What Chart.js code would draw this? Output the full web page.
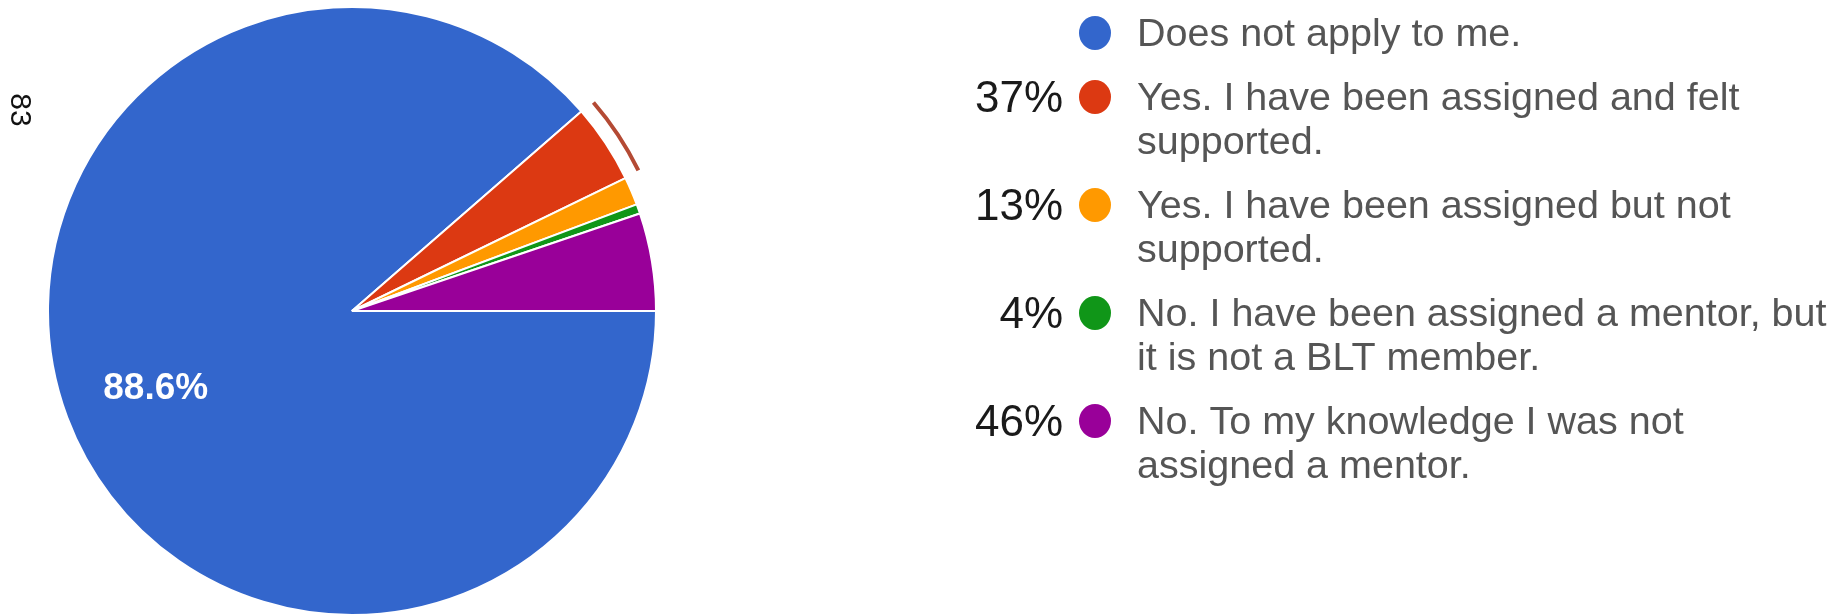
<!DOCTYPE html>
<html>
<head>
<meta charset="utf-8">
<script src="https://cdn.jsdelivr.net/npm/chart.js@4.4.0/dist/chart.umd.min.js"></script>
<style>
  html, body { margin: 0; padding: 0; background: #fff; overflow: hidden; }
  canvas { display: block; }
</style>
</head>
<body>
<canvas id="c" width="1842" height="614"></canvas>
<script>
// Survey answers and their share of responses (percent)
const categories = [
  'Does not apply to me.',
  'Yes. I have been assigned and felt supported.',
  'Yes. I have been assigned but not supported.',
  'No. I have been assigned a mentor, but it is not a BLT member.',
  'No. To my knowledge I was not assigned a mentor.'
];
const shares = [88.6, 4.2, 1.5, 0.5, 5.2];
// Annotations written beside the legend entries
const sideLabels = ['', '37%', '13%', '4%', '46%'];
const sliceColors = ['#3366cc', '#dc3912', '#ff9900', '#109618', '#990099'];
const pageNumber = '83';
const highlightedSlice = 1;

const FONT = '"Liberation Sans", Arial, sans-serif';

// White percentage text inside the large slices
const sliceLabels = {
  id: 'sliceLabels',
  afterDatasetsDraw(chart) {
    const ctx = chart.ctx;
    const meta = chart.getDatasetMeta(0);
    const data = chart.data.datasets[0].data;
    meta.data.forEach((arc, i) => {
      if (data[i] < 10) return;
      const { x, y, startAngle, endAngle, outerRadius } = arc.getProps(['x', 'y', 'startAngle', 'endAngle', 'outerRadius'], true);
      const mid = (startAngle + endAngle) / 2;
      const r = outerRadius * 0.7;
      ctx.save();
      ctx.fillStyle = '#ffffff';
      ctx.font = 'bold 37px ' + FONT;
      ctx.textAlign = 'center';
      ctx.textBaseline = 'middle';
      ctx.fillText(data[i].toFixed(1) + '%', x + r * Math.cos(mid) + 3, y + r * Math.sin(mid) + 3);
      ctx.restore();
    });
  }
};

// Thin outline arc around the selected slice
const selectionRing = {
  id: 'selectionRing',
  afterDatasetsDraw(chart) {
    const arc = chart.getDatasetMeta(0).data[highlightedSlice];
    if (!arc) return;
    const { x, y, startAngle, endAngle, outerRadius } = arc.getProps(['x', 'y', 'startAngle', 'endAngle', 'outerRadius'], true);
    const ctx = chart.ctx;
    ctx.save();
    ctx.strokeStyle = '#b44a34';
    ctx.lineWidth = 4;
    ctx.beginPath();
    ctx.arc(x, y, outerRadius + 15, startAngle + 0.004, endAngle - 0.004);
    ctx.stroke();
    ctx.restore();
  }
};

// Legend on the right: side percentage, colour dot, wrapped answer text
const sideLegend = {
  id: 'sideLegend',
  afterDraw(chart) {
    const ctx = chart.ctx;
    const dotX = 1095, dotR = 16, textX = 1137, pctRight = 1063;
    const wrapWidth = 705, lineH = 44, itemGap = 64;
    let y = 33;
    ctx.save();
    ctx.textBaseline = 'middle';
    categories.forEach((label, i) => {
      ctx.font = '39.5px ' + FONT;
      const words = label.split(' ');
      const lines = [];
      let cur = '';
      words.forEach(w => {
        const test = cur ? cur + ' ' + w : w;
        if (ctx.measureText(test).width > wrapWidth && cur) { lines.push(cur); cur = w; }
        else cur = test;
      });
      if (cur) lines.push(cur);

      ctx.fillStyle = sliceColors[i];
      ctx.beginPath();
      ctx.ellipse(dotX, y, dotR, dotR + 1, 0, 0, Math.PI * 2);
      ctx.fill();

      ctx.fillStyle = '#555555';
      ctx.textAlign = 'left';
      lines.forEach((ln, k) => ctx.fillText(ln, textX, y + k * lineH + 2));

      if (sideLabels[i]) {
        ctx.font = '44px ' + FONT;
        ctx.fillStyle = '#1a1a1a';
        ctx.textAlign = 'right';
        ctx.fillText(sideLabels[i], pctRight, y + 3);
      }
      y += (lines.length - 1) * lineH + itemGap;
    });

    // page number, turned a quarter clockwise
    ctx.translate(19, 110);
    ctx.rotate(Math.PI / 2);
    ctx.font = '30px ' + FONT;
    ctx.fillStyle = '#111';
    ctx.textAlign = 'center';
    ctx.fillText(pageNumber, 0, 0);
    ctx.restore();
  }
};

new Chart(document.getElementById('c'), {
  type: 'pie',
  data: {
    labels: categories,
    datasets: [{
      data: shares,
      backgroundColor: sliceColors,
      borderColor: '#ffffff',
      borderWidth: 2
    }]
  },
  options: {
    responsive: false,
    animation: false,
    devicePixelRatio: 1,
    rotation: 90,
    radius: 304,
    layout: { padding: { left: 47, right: 1185, top: 8, bottom: 0 } },
    plugins: {
      legend: { display: false },
      tooltip: { enabled: false }
    }
  },
  plugins: [sliceLabels, selectionRing, sideLegend]
});
</script>
</body>
</html>
